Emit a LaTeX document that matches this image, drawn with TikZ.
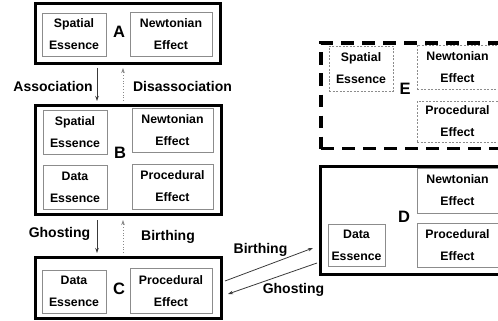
\documentclass[tikz,border=0pt]{standalone}
\usepackage{fontspec}
\setmainfont{Liberation Sans}
\usetikzlibrary{arrows.meta}
\definecolor{boxgray}{HTML}{8C8C8C}
\definecolor{arrowdark}{HTML}{3A3A3A}
\definecolor{arrowlight}{HTML}{8A8A8A}
\begin{document}
\begin{tikzpicture}[x=1pt,y=-1pt,
  state/.style={draw=black, line width=3pt, inner sep=0pt, anchor=center},
  ghoststate/.style={draw=black, line width=3.2pt, inner sep=0pt, anchor=center,
    dash pattern=on 12.5pt off 8.5pt},
  part/.style={draw=boxgray, line width=0.8pt, inner sep=0pt, align=center,
    font=\fontsize{12.3}{22}\selectfont\bfseries},
  ghostpart/.style={part, dash pattern=on 2pt off 1.5pt},
  tag/.style={inner sep=0pt, font=\fontsize{16.5}{16.5}\selectfont\bfseries},
  lbl/.style={inner sep=0pt, font=\fontsize{14}{14}\selectfont\bfseries},
  flow/.style={draw=arrowdark, line width=0.8pt, -{Stealth[length=5pt,width=3.5pt]}},
  backflow/.style={draw=arrowlight, line width=0.8pt, dotted, -{Stealth[length=5pt,width=3.5pt]}}
]
\useasboundingbox (0,0) rectangle (498,321);
\clip (0,0) rectangle (498,321);

% State A
\node[state, minimum width=185pt, minimum height=60pt] (A) at (127.5,34) {};
\node[part, minimum width=64pt, minimum height=43pt] (A1) at (74,34.5) {Spatial\\Essence};
\node[part, minimum width=82pt, minimum height=44pt] (A2) at (171,34) {Newtonian\\Effect};
\node[tag] (Atag) at (119,32) {A};

% State B
\node[state, minimum width=186pt, minimum height=109pt] (B) at (128,159.5) {};
\node[part, minimum width=64pt, minimum height=44pt] (B1) at (75,132) {Spatial\\Essence};
\node[part, minimum width=81pt, minimum height=44pt] (B2) at (172.5,130) {Newtonian\\Effect};
\node[part, minimum width=64pt, minimum height=44pt] (B3) at (75,187) {Data\\Essence};
\node[part, minimum width=81pt, minimum height=45pt] (B4) at (172.5,186.5) {Procedural\\Effect};
\node[tag] (Btag) at (120,153) {B};

% State C
\node[state, minimum width=186pt, minimum height=61pt] (C) at (128,287.5) {};
\node[part, minimum width=64pt, minimum height=43pt] (C1) at (74,291.5) {Data\\Essence};
\node[part, minimum width=82pt, minimum height=45pt] (C2) at (171,291) {Procedural\\Effect};
\node[tag] (Ctag) at (119,289) {C};

% State D
\node[state, minimum width=185pt, minimum height=108pt] (D) at (412.5,220) {};
\node[part, minimum width=57pt, minimum height=42pt] (D1) at (356.5,245) {Data\\Essence};
\node[part, minimum width=81pt, minimum height=45pt] (D2) at (457.5,190.5) {Newtonian\\Effect};
\node[part, minimum width=81pt, minimum height=44pt] (D3) at (457.5,245) {Procedural\\Effect};
\node[tag] (Dtag) at (404,217) {D};

% State E (dashed)
\node[ghoststate, minimum width=184pt, minimum height=105.5pt] (E) at (413,95.75) {};
\node[ghostpart, minimum width=64pt, minimum height=45pt] (E1) at (361,68.5) {Spatial\\Essence};
\node[ghostpart, minimum width=81pt, minimum height=44pt] (E2) at (457.5,67) {Newtonian\\Effect};
\node[ghostpart, minimum width=81pt, minimum height=41pt] (E3) at (457.5,121.5) {Procedural\\Effect};
\node[tag] (Etag) at (405,89) {E};

% Transitions A <-> B
\draw[flow, shorten <=2.5pt, shorten >=2.5pt] ([xshift=-30.5pt]A.south) -- ([xshift=-31pt]B.north);
\draw[backflow, shorten <=2.5pt, shorten >=2.5pt] ([xshift=-5pt]B.north) -- ([xshift=-4.5pt]A.south);
\node[lbl, anchor=east] (assoc) at (93,86) {Association};
\node[lbl] (disassoc) at (182.5,86) {Disassociation};

% Transitions B <-> C
\draw[flow, shorten <=4.5pt, shorten >=2.5pt] ([xshift=-31pt]B.south) -- ([xshift=-31pt]C.north);
\draw[backflow, shorten <=2.5pt, shorten >=4.5pt] ([xshift=-5pt]C.north) -- ([xshift=-5pt]B.south);
\node[lbl] (ghostBC) at (59.5,234) {Ghosting};
\node[lbl] (birthBC) at (168,237) {Birthing};

% Transitions C <-> D
\draw[flow] ([xshift=2.5pt,yshift=6.5pt]C.east) -- ([xshift=-5.5pt,yshift=-28pt]D.west);
\draw[flow] ([xshift=-1.5pt,yshift=-43pt]D.west) -- ([xshift=5.5pt,yshift=-6.5pt]C.east);
\node[lbl] (birthCD) at (260.5,250) {Birthing};
\node[lbl] (ghostCD) at (293.5,290) {Ghosting};
\end{tikzpicture}
\end{document}
